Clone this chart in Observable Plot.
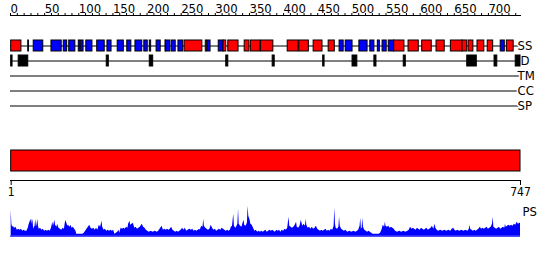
<!DOCTYPE html>
<html><head><meta charset="utf-8">
<script src="https://cdn.jsdelivr.net/npm/d3@7"></script>
<script src="https://cdn.jsdelivr.net/npm/@observablehq/plot@0.6"></script>
<style>
body{margin:0;background:#fff}
#chart{position:relative;width:550px;height:260px;overflow:hidden;background:#fff}
#chart svg{position:absolute;left:0}
</style></head><body><div id="chart"></div>
<script>
// ---- data ----
const seqLength = 747;
const tracks = ["SS", "D", "TM", "CC", "SP"];
// secondary structure segments: [start, end, type]  H = helix (red), E = strand (blue)
const ssSegments = [
  [1,16,"H"],[26,27,"E"],[34,48,"E"],[60,75,"E"],[78,83,"E"],[86,95,"E"],[100,102,"E"],[103,107,"E"],
  [111,120,"E"],[127,138,"E"],[142,148,"E"],[157,166,"E"],[171,177,"E"],[183,193,"E"],[196,201,"E"],
  [204,206,"E"],[214,220,"E"],[227,228,"H"],[228,234,"E"],[236,242,"E"],[246,253,"E"],[255,281,"H"],
  [286,288,"H"],[289,293,"E"],[305,312,"E"],[312,316,"H"],[319,334,"H"],[343,350,"H"],[352,366,"H"],
  [367,385,"H"],[406,422,"H"],[423,437,"H"],[444,457,"H"],[466,475,"H"],[482,488,"E"],[491,501,"E"],
  [511,523,"E"],[527,533,"E"],[538,541,"E"],[545,551,"E"],[554,562,"E"],[562,577,"H"],[583,598,"H"],
  [603,617,"H"],[624,636,"H"],[645,662,"H"],[662,669,"H"],[671,678,"H"],[684,694,"H"],[699,707,"H"],
  [718,724,"E"],[727,737,"H"]
];
// disordered regions: [start, end]
const disorderSegments = [
  [1,3],[12,26],[141,144],[204,209],[316,319],[384,387],[458,460],[501,508],[533,536],[576,579],
  [669,683],[709,713],[740,747]
];
// whole-length domain bar
const domainBars = [[1, 747]];
// ruler tick labels
const topTicks = d3.range(0, 741, 10);
const rulerTicks = [1, 747];
// per-residue profile (PS)
const profileResidues = [1,2,3,4,6,8,10,12,14,16,18,20,22,24,26,27,29,30,31,32,33,34,35,36,37,38,39,40,41,42,44,46,48,50,52,54,56,58,60,62,63,65,66,68,69,71,73,75,77,79,80,81,82,84,85,87,89,90,92,94,96,97,100,103,106,108,110,112,114,116,118,120,122,124,126,128,130,132,134,135,137,139,141,143,145,147,149,151,153,155,157,159,160,162,164,166,168,170,172,173,175,176,178,180,182,184,186,188,190,193,195,197,199,201,203,206,209,212,215,217,219,222,224,226,228,230,232,234,236,238,240,242,244,246,248,250,252,254,256,258,260,263,265,267,269,271,273,275,277,278,280,282,283,284,286,288,290,292,294,296,298,300,302,304,306,308,310,312,314,316,318,320,322,324,325,327,328,330,331,333,334,335,337,339,341,342,343,345,347,348,349,351,352,354,356,358,360,362,364,366,368,370,372,374,376,378,380,382,384,386,388,390,392,394,396,398,400,402,404,406,408,409,411,413,415,417,419,420,422,424,426,428,430,432,433,434,436,438,440,442,444,446,448,450,452,454,456,458,460,462,464,466,468,470,472,474,475,476,477,479,481,482,483,485,487,489,491,494,497,500,503,506,508,510,512,513,514,515,516,517,519,521,523,525,527,529,531,534,537,540,542,544,546,548,549,550,552,554,556,558,560,562,564,567,570,573,576,579,582,584,586,588,590,592,594,596,598,600,602,604,606,608,610,612,614,616,618,620,622,623,625,627,630,633,636,639,642,645,647,649,651,653,655,658,661,664,667,670,672,673,674,676,678,680,682,684,686,688,690,692,694,696,698,700,702,704,706,707,708,710,712,714,716,718,720,722,724,725,726,728,730,732,734,736,738,740,742,744,746,747];
const profileScores = [26,12,9,10,8,9,6,7,6,7,5,6,5,5,8,11,15,17,12,17,15,7,9,10,17,9,12,17,10,7,8,6,7,5,6,5,6,5,8,14,10,16,11,9,12,8,7,6,8,7,12,16,14,10,11,9,11,8,9,7,5,2,2,2,2,3,5,7,9,11,8,7,8,6,8,6,11,9,15,9,6,7,5,6,5,6,5,6,2,3,4,6,3,8,7,8,7,9,8,12,15,11,12,13,8,9,7,8,9,12,9,8,6,5,4,5,4,5,4,5,7,10,6,7,6,7,6,7,9,6,5,4,5,4,5,6,8,6,8,5,6,7,6,7,5,6,5,6,7,6,10,9,17,10,8,7,6,7,11,8,6,7,5,6,7,6,8,7,6,5,6,5,6,10,9,22,10,8,9,12,27,12,10,9,14,16,11,10,13,30,20,16,12,11,8,5,6,4,5,4,5,4,5,6,4,5,6,5,6,5,4,6,5,6,4,6,5,7,6,8,19,10,9,8,9,11,14,9,8,10,16,10,12,10,17,11,8,9,7,9,7,8,10,7,6,5,6,5,6,7,5,6,5,7,6,10,28,12,8,7,9,19,10,7,6,5,6,4,5,4,5,4,5,6,10,18,7,8,18,9,6,5,4,5,4,3,2,2,2,2,3,6,11,9,14,10,9,10,8,9,8,7,5,4,5,4,5,4,5,6,9,7,8,7,6,8,7,6,8,7,6,7,8,6,7,8,10,7,12,8,6,5,6,5,6,5,6,5,7,8,6,5,6,5,6,5,6,5,7,11,7,6,5,6,5,6,7,9,7,8,7,8,9,7,8,9,12,19,9,8,7,8,9,7,8,9,8,12,9,10,11,10,11,10,12,11,14,12,13,13];

// ---- tables ----
const ssTable = ssSegments.map(([start, end, type]) => ({start, end, type, track: "SS"}));
const dTable = disorderSegments.map(([start, end]) => ({start, end, track: "D"}));
const domTable = domainBars.map(([start, end]) => ({start, end, row: "domain"}));
const profile = profileResidues.map((r, i) => ({r, v: profileScores[i]}));

const font = "font-family:'DejaVu Sans',sans-serif;font-stretch:condensed;font-size:12px;overflow:visible;background:transparent;";
const chart = document.getElementById("chart");
const xOpts = {domain: [0, seqLength]};

// ---- plot 1: top ruler + tracks ----
const p1 = Plot.plot({
  width: 550, height: 115,
  marginLeft: 10, marginRight: 30, marginTop: 15, marginBottom: 0,
  style: font,
  x: xOpts,
  y: {type: "band", domain: tracks, range: [37.5, 112.5], paddingInner: 0.3, paddingOuter: 0.15, axis: null},
  color: {domain: ["H", "E"], range: ["#ff0000", "#0000ff"]},
  marks: [
    Plot.frame({anchor: "top", stroke: "black"}),
    Plot.axisX({anchor: "top", ticks: topTicks, tickSize: 3, tickPadding: 0, fontSize: 13,
      tickFormat: d => d % 50 === 0 ? String(d) : "", textAnchor: "start", dx: 0, color: "black"}),
    Plot.ruleY(tracks, {y: d => d, x1: 0, x2: seqLength, stroke: "black"}),
    Plot.barX(ssTable, {x1: "start", x2: "end", y: "track", fill: "type", stroke: "black", strokeWidth: 1}),
    Plot.barX(dTable, {x1: "start", x2: "end", y: "track", fill: "black", stroke: "black", strokeWidth: 1}),
    Plot.text(tracks.filter(t => t !== "D"), {x: () => seqLength, y: d => d, text: d => d, textAnchor: "start", dx: -3,
      fontSize: 13, fill: "black", stroke: "white", strokeWidth: 3, paintOrder: "stroke"}),
    Plot.text(["D"], {x: () => seqLength, y: d => d, text: d => d, textAnchor: "start", dx: 0, fontSize: 13, fill: "black"})
  ]
});
p1.style.top = "0px";
chart.append(p1);

// ---- plot 2: domain bar + length ruler ----
const p2 = Plot.plot({
  width: 550, height: 90,
  marginLeft: 10, marginRight: 30, marginTop: 0, marginBottom: 25,
  style: font,
  x: xOpts,
  y: {type: "band", domain: ["domain"], range: [35, 56], padding: 0, axis: null},
  marks: [
    Plot.barX(domTable, {x1: "start", x2: "end", y: "row", fill: "#ff0000", stroke: "black", strokeWidth: 1}),
    Plot.frame({anchor: "bottom", stroke: "black"}),
    Plot.axisX({anchor: "bottom", ticks: rulerTicks, tickSize: 5, tickPadding: 2, tickFormat: d => String(d), color: "black"})
  ]
});
p2.style.top = "115px";
chart.append(p2);

// ---- plot 3: profile ----
const p3 = Plot.plot({
  width: 550, height: 65,
  marginLeft: 10, marginRight: 30, marginTop: 10, marginBottom: 0,
  style: font,
  x: {...xOpts, axis: null},
  y: {domain: [0, 30], range: [40.7, 10.7], axis: null},
  marks: [
    Plot.areaY(profile, {x: "r", y: "v", fill: "#0000ff"}),
    Plot.ruleY([0], {stroke: "#0000ff"}),
    Plot.text(["PS"], {frameAnchor: "top-right", text: d => d, textAnchor: "start", dx: 2, dy: 6, lineAnchor: "middle", fontSize: 13, fill: "black"})
  ]
});
p3.style.top = "195px";
chart.append(p3);
</script>
</body></html>
